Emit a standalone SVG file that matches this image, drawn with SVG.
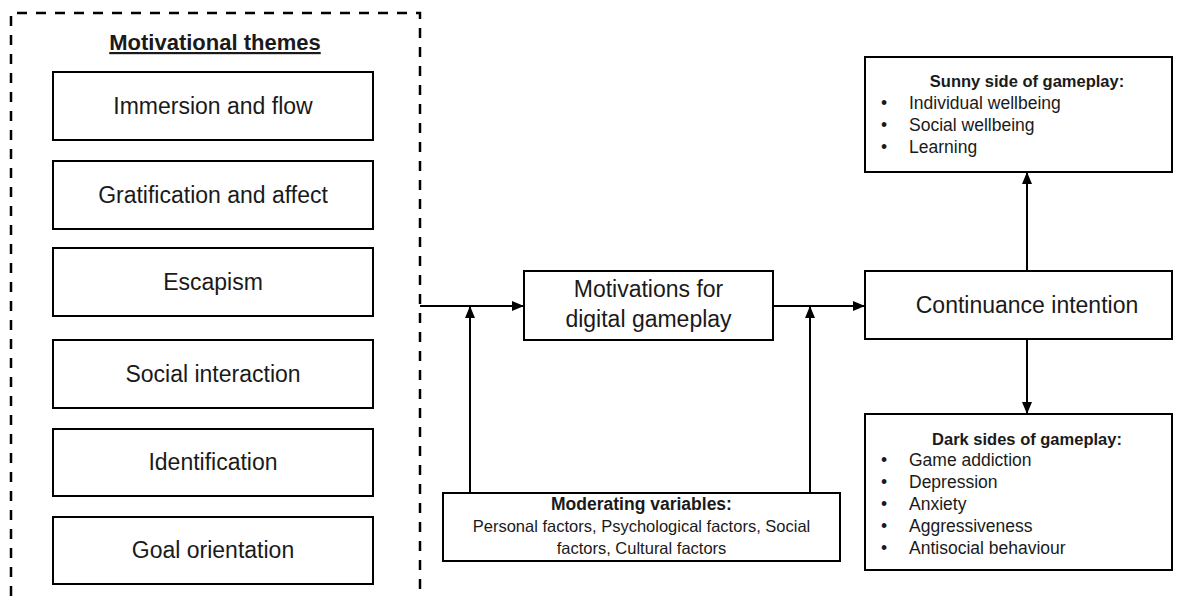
<svg xmlns="http://www.w3.org/2000/svg" width="1184" height="596" viewBox="0 0 1184 596">
<style>
.box{fill:#fff;stroke:#000;stroke-width:2}
.t{font-family:"Liberation Sans",Arial,sans-serif;fill:#1a1a1a}
.big{font-size:23px;text-anchor:middle}
.sm{font-size:17.5px}
.bt{font-size:16.5px;font-weight:bold;text-anchor:middle}
.ln{stroke:#000;stroke-width:2;fill:none}
</style>
<defs>
<marker id="ah" markerUnits="userSpaceOnUse" markerWidth="12" markerHeight="12" viewBox="0 0 12 12" refX="12" refY="6" orient="auto">
<path d="M0,1 L12,6 L0,11 Z" fill="#000"/>
</marker>
</defs>
<g id="themes">
<path d="M11,596 V13 H420 V596" fill="none" stroke="#000" stroke-width="2.5" stroke-dasharray="10 9"/>
<text class="t" x="215" y="50" font-size="22" font-weight="bold" text-anchor="middle" text-decoration="underline">Motivational themes</text>
</g>
<g id="immersion"><rect class="box" x="53" y="72" width="320" height="68"/><text class="t big" x="213" y="114">Immersion and flow</text></g>
<g id="gratification"><rect class="box" x="53" y="161" width="320" height="68"/><text class="t big" x="213" y="203">Gratification and affect</text></g>
<g id="escapism"><rect class="box" x="53" y="248" width="320" height="68"/><text class="t big" x="213" y="290">Escapism</text></g>
<g id="social"><rect class="box" x="53" y="340" width="320" height="68"/><text class="t big" x="213" y="382">Social interaction</text></g>
<g id="identification"><rect class="box" x="53" y="429" width="320" height="67"/><text class="t big" x="213" y="470">Identification</text></g>
<g id="goal"><rect class="box" x="53" y="517" width="320" height="67"/><text class="t big" x="213" y="558">Goal orientation</text></g>
<g id="motivations"><rect class="box" x="524" y="271" width="249" height="69"/><text class="t big" x="648.5" y="297">Motivations for</text><text class="t big" x="648.5" y="327">digital gameplay</text></g>
<g id="continuance"><rect class="box" x="865" y="271" width="307" height="68"/><text class="t big" x="1027" y="313">Continuance intention</text></g>
<g id="sunny"><rect class="box" x="865" y="57" width="307" height="115"/>
<text class="t bt" x="1027" y="87">Sunny side of gameplay:</text>
<text class="t sm" x="884" y="109" text-anchor="middle">•</text><text class="t sm" x="909" y="109">Individual wellbeing</text>
<text class="t sm" x="884" y="131" text-anchor="middle">•</text><text class="t sm" x="909" y="131">Social wellbeing</text>
<text class="t sm" x="884" y="153" text-anchor="middle">•</text><text class="t sm" x="909" y="153">Learning</text>
</g>
<g id="dark"><rect class="box" x="865" y="414" width="307" height="156"/>
<text class="t bt" x="1027" y="445">Dark sides of gameplay:</text>
<text class="t sm" x="884" y="466" text-anchor="middle">•</text><text class="t sm" x="909" y="466">Game addiction</text>
<text class="t sm" x="884" y="488" text-anchor="middle">•</text><text class="t sm" x="909" y="488">Depression</text>
<text class="t sm" x="884" y="510" text-anchor="middle">•</text><text class="t sm" x="909" y="510">Anxiety</text>
<text class="t sm" x="884" y="532" text-anchor="middle">•</text><text class="t sm" x="909" y="532">Aggressiveness</text>
<text class="t sm" x="884" y="554" text-anchor="middle">•</text><text class="t sm" x="909" y="554">Antisocial behaviour</text>
</g>
<g id="moderating"><rect class="box" x="443" y="493" width="397" height="68"/>
<text class="t" x="641.5" y="510" font-size="17.5" font-weight="bold" text-anchor="middle">Moderating variables:</text>
<text class="t" x="641.5" y="532" font-size="16.5" text-anchor="middle">Personal factors, Psychological factors, Social</text>
<text class="t" x="641.5" y="554" font-size="16.5" text-anchor="middle">factors, Cultural factors</text>
</g>
<g id="connectors">
<line class="ln" x1="420" y1="306" x2="524" y2="306" marker-end="url(#ah)"/>
<line class="ln" x1="773" y1="306" x2="865" y2="306" marker-end="url(#ah)"/>
<line class="ln" x1="470" y1="493" x2="470" y2="306" marker-end="url(#ah)"/>
<line class="ln" x1="810" y1="493" x2="810" y2="306" marker-end="url(#ah)"/>
<line class="ln" x1="1027" y1="271" x2="1027" y2="172" marker-end="url(#ah)"/>
<line class="ln" x1="1027" y1="339" x2="1027" y2="414" marker-end="url(#ah)"/>
</g>
</svg>
